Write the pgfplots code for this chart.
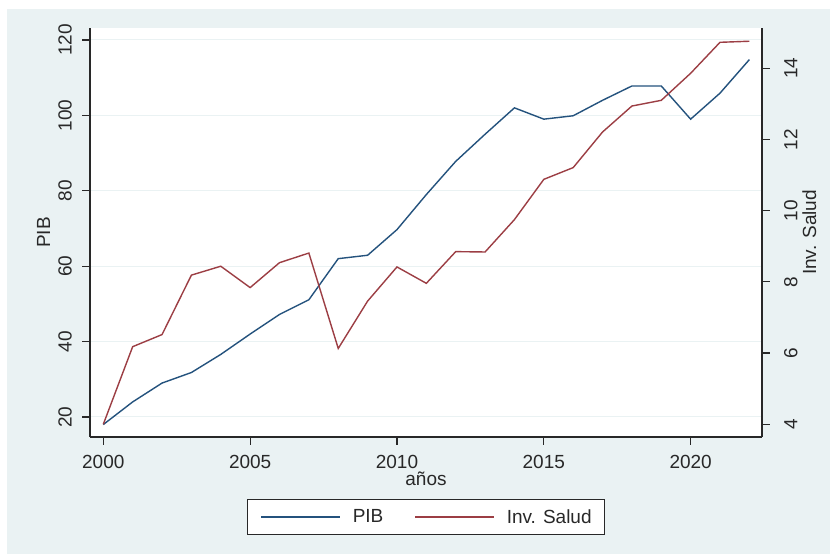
\documentclass[border=0pt]{standalone}
\usepackage{pgfplots}
\pgfplotsset{compat=1.18}
\usepackage{fontspec}
\setmainfont{Liberation Sans}
\definecolor{bg}{RGB}{234,242,243}
\definecolor{sblue}{RGB}{36,82,125}
\definecolor{sred}{RGB}{156,62,68}
\definecolor{axc}{RGB}{40,40,40}
\newcommand{\fs}{\fontsize{19}{22}\selectfont}
\pgfplotstableread{
year pib
2000 18
2001 24
2002 29
2003 31.8
2004 36.6
2005 42
2006 47.2
2007 51.1
2008 62
2009 62.9
2010 69.7
2011 79
2012 87.8
2013 95
2014 102
2015 99
2016 99.9
2017 104
2018 107.8
2019 107.8
2020 99
2021 105.9
2022 114.8
}\pibdata
\pgfplotstableread{
year inv
2000 4.0
2001 6.18
2002 6.52
2003 8.19
2004 8.44
2005 7.84
2006 8.54
2007 8.81
2008 6.13
2009 7.46
2010 8.42
2011 7.96
2012 8.85
2013 8.84
2014 9.75
2015 10.88
2016 11.21
2017 12.21
2018 12.94
2019 13.10
2020 13.86
2021 14.73
2022 14.76
}\invdata
\begin{document}
\begin{tikzpicture}[x=1pt,y=1pt]
\path[use as bounding box] (0,0) rectangle (830,554);
\fill[bg] (7,0) rectangle (830,545);
\begin{axis}[
  at={(90pt,117pt)}, anchor=south west,
  width=672pt, height=409pt, scale only axis,
  xmin=1999.547, xmax=2022.43, ymin=14.695, ymax=123.18,
  axis x line*=bottom, axis y line*=left,
  axis line style={axc, line width=1.2pt, -},
  axis background/.style={fill=white},
  xtick={2000,2005,...,2020}, ytick={20,40,...,120},
  tick align=outside, major tick length=8pt,
  every tick/.style={axc, line width=1.2pt},
  minor tick num=0,
  ymajorgrids, grid style={bg, line width=1pt},
  /pgf/number format/assume math mode=true,
  /pgf/number format/1000 sep={},
  xticklabel style={font=\fs, text=axc, anchor=north, inner sep=0pt},
  xticklabel shift=10pt,
  yticklabel style={font=\fs, text=axc, rotate=90, anchor=south, inner sep=0pt},
  yticklabel shift=10pt,
  xlabel={años}, xlabel style={font=\fs, text=axc, at={(axis description cs:0.5,-0.1174)}, anchor=base, inner sep=0pt},
  ylabel={PIB}, ylabel style={font=\fs, text=axc, at={(axis description cs:-0.0595,0.5)}, anchor=base, inner sep=0pt},
]
\addplot[sblue, line width=1.4pt] table[x=year, y=pib] {\pibdata};
\end{axis}
\begin{axis}[
  at={(90pt,117pt)}, anchor=south west,
  width=672pt, height=409pt, scale only axis,
  xmin=1999.547, xmax=2022.43, ymin=3.643, ymax=15.132,
  axis x line=none, axis y line*=right,
  axis line style={axc, line width=1.2pt, -},
  ytick={4,6,...,14},
  tick align=outside, major tick length=8pt,
  every tick/.style={axc, line width=1.2pt},
  minor tick num=0,
  /pgf/number format/assume math mode=true,
  yticklabel style={font=\fs, text=axc, rotate=90, anchor=north, inner sep=0pt},
  yticklabel shift=14pt,
  ylabel={Inv. Salud}, ylabel style={font=\fs, text=axc, at={(axis description cs:1.0804,0.5)}, anchor=base, rotate=0, inner sep=0pt},
  legend columns=2,
  legend style={at={(axis description cs:0.5,-0.1956)}, anchor=center, draw=axc, line width=1pt, fill=white, font=\fs, text=axc,
    inner xsep=13pt, inner ysep=9.5pt,
    nodes={inner sep=0pt},
    /tikz/every odd column/.append style={column sep=12pt},
    /tikz/every even column/.append style={column sep=31pt}},
  legend image code/.code={\draw[#1] (0pt,0pt) -- (79pt,0pt);},
]
\addlegendimage{sblue, line width=1.4pt}
\addlegendentry{PIB}
\addplot[sred, line width=1.4pt] table[x=year, y=inv] {\invdata};
\addlegendentry{Inv. Salud}
\end{axis}
\end{tikzpicture}
\end{document}
